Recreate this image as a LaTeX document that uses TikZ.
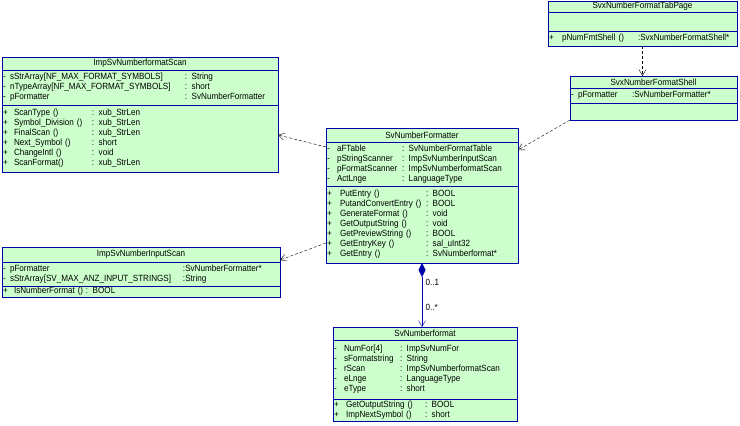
\documentclass[tikz,border=0pt]{standalone}
\usepackage{fontspec}
\usepackage{array}
\setmainfont{Liberation Sans}[FakeStretch=0.9]
\usetikzlibrary{arrows.meta, positioning}
\definecolor{umlgreen}{RGB}{204,255,204}
\definecolor{umlblue}{RGB}{0,0,170}
\newenvironment{members}[2]{\begin{tabular}{@{}w{l}{#1}@{}w{l}{#2}@{}l@{}}}{\end{tabular}}

\begin{document}
\begin{tikzpicture}[x=1pt, y=-1pt,
  font=\fontsize{9}{10}\selectfont,
  classbox/.style={draw=umlblue, fill=umlgreen, line width=0.8pt, inner xsep=1pt, inner ysep=0pt, outer sep=0pt},
  classname/.style={classbox, align=center, anchor=north west},
  compart/.style={classbox, align=left, below=0pt of #1, anchor=north west},
  depend/.style={densely dashed, thin, -{Straight Barb[length=6pt, width=7pt]}},
  compose/.style={umlblue, thin, {Diamond[length=14pt, width=7pt]}-{Straight Barb[length=6pt, width=7pt]}},
]
\useasboundingbox (0,0) rectangle (740,426);

% ImpSvNumberformatScan
\node[classname, text width=274pt, minimum height=13pt] (scanT) at (2,57) {ImpSvNumberformatScan};
\node[compart=scanT.south west, text width=274pt, minimum height=35pt] (scanA) {\begin{members}{7pt}{175pt}
  - & sStrArray[NF\_MAX\_FORMAT\_SYMBOLS] & : String\\
  - & nTypeArray[NF\_MAX\_FORMAT\_SYMBOLS] & : short\\
  - & pFormatter & : SvNumberFormatter
\end{members}};
\node[compart=scanA.south west, text width=274pt, minimum height=67pt] (scanM) {\begin{members}{11pt}{78pt}
  + & ScanType () & : xub\_StrLen\\
  + & Symbol\_Division () & : xub\_StrLen\\
  + & FinalScan () & : xub\_StrLen\\
  + & Next\_Symbol () & : short\\
  + & ChangeIntl () & : void\\
  + & ScanFormat() & : xub\_StrLen
\end{members}};

% SvNumberFormatter
\node[classname, text width=190pt, minimum height=14pt] (formT) at (326,128) {SvNumberFormatter};
\node[compart=formT.south west, text width=190pt, minimum height=44pt] (formA) {\begin{members}{10pt}{65pt}
  - & aFTable & : SvNumberFormatTable\\
  - & pStringScanner & : ImpSvNumberInputScan\\
  - & pFormatScanner & : ImpSvNumberformatScan\\
  - & ActLnge & : LanguageType
\end{members}};
\node[compart=formA.south west, text width=190pt, minimum height=77pt] (formM) {\begin{members}{13pt}{86pt}
  + & PutEntry () & : BOOL\\
  + & PutandConvertEntry () & : BOOL\\
  + & GenerateFormat () & : void\\
  + & GetOutputString () & : void\\
  + & GetPreviewString () & : BOOL\\
  + & GetEntryKey () & : sal\_uInt32\\
  + & GetEntry () & : SvNumberformat*
\end{members}};

% ImpSvNumberInputScan
\node[classname, text width=276pt, minimum height=15pt] (inT) at (2,247) {ImpSvNumberInputScan};
\node[compart=inT.south west, text width=276pt, minimum height=24pt] (inA) {\begin{members}{7pt}{173pt}
  - & pFormatter & :SvNumberFormatter*\\
  - & sStrArray[SV\_MAX\_ANZ\_INPUT\_STRINGS] & :String
\end{members}};
\node[compart=inA.south west, text width=276pt, minimum height=11pt] (inM) {\begin{members}{11pt}{72pt}
  + & IsNumberFormat () & : BOOL
\end{members}};

% SvNumberformat
\node[classname, text width=182pt, minimum height=13pt] (fmtT) at (333,327) {SvNumberformat};
\node[compart=fmtT.south west, text width=182pt, minimum height=59pt] (fmtA) {\begin{members}{10pt}{56pt}
  - & NumFor[4] & : ImpSvNumFor\\
  - & sFormatstring & : String\\
  - & rScan & : ImpSvNumberformatScan\\
  - & eLnge & : LanguageType\\
  - & eType & : short
\end{members}};
\node[compart=fmtA.south west, text width=182pt, minimum height=22pt] (fmtM) {\begin{members}{12pt}{79pt}
  + & GetOutputString () & : BOOL\\
  + & ImpNextSymbol () & : short
\end{members}};

% SvxNumberFormatTabPage
\node[classname, text width=187pt, minimum height=11pt] (tabT) at (548,1) {SvxNumberFormatTabPage};
\node[compart=tabT.south west, text width=187pt, minimum height=19pt] (tabA) {};
\node[compart=tabA.south west, text width=187pt, minimum height=15pt] (tabM) {\begin{members}{13pt}{76pt}
  + & pNumFmtShell () & :SvxNumberFormatShell*
\end{members}};

% SvxNumberFormatShell
\node[classname, text width=165pt, minimum height=12pt] (shellT) at (570,76) {SvxNumberFormatShell};
\node[compart=shellT.south west, text width=165pt, minimum height=15pt] (shellA) {\begin{members}{7pt}{54pt}
  - & pFormatter & :SvNumberFormatter*
\end{members}};
\node[compart=shellA.south west, text width=165pt, minimum height=17pt] (shellM) {};

% connectors
\draw[depend] ([yshift=-5pt]formA.north west) -- ([yshift=-30pt]scanM.north east);
\draw[depend] ([yshift=-57pt]formM.north west) -- ([yshift=-13pt]inT.north east);
\draw[depend] (shellM.south west) -- ([yshift=-8pt]formA.north east);
\draw[depend] (tabM.south) -- (tabM.south |- shellT.north);
\draw[compose] (formM.south) -- (formM.south |- fmtT.north)
  node[pos=0.31, right, text=black] {0..1}
  node[pos=0.69, right, text=black] {0..*};
\end{tikzpicture}
\end{document}
